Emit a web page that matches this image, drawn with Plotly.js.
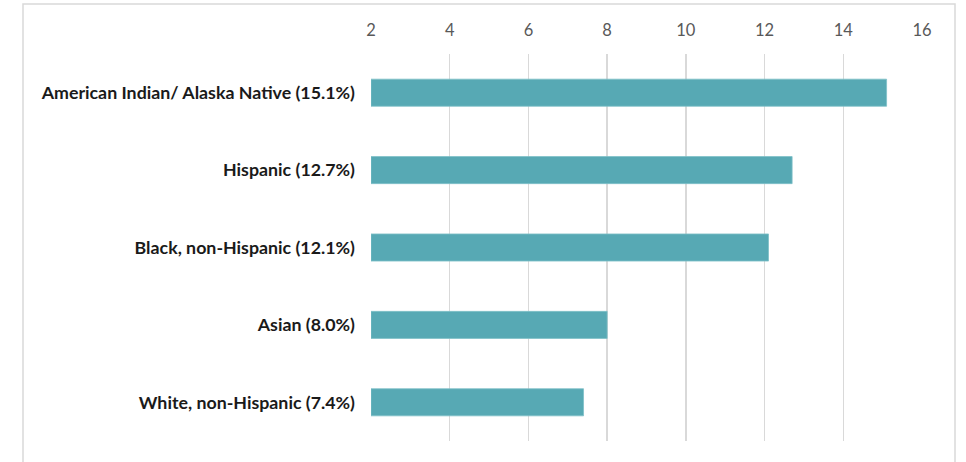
<!DOCTYPE html>
<html>
<head>
<meta charset="utf-8">
<script src="https://cdn.plot.ly/plotly-3.0.1.min.js"></script>
<style>
html,body{margin:0;padding:0;background:#fff;}
#chart{width:966px;height:462px;}
</style>
</head>
<body>
<div id="chart"></div>
<script>
var categories = [
  "White, non-Hispanic (7.4%)",
  "Asian (8.0%)",
  "Black, non-Hispanic (12.1%)",
  "Hispanic (12.7%)",
  "American Indian/ Alaska Native (15.1%)"
];
var values = [7.4, 8.0, 12.1, 12.7, 15.1];
var tickVals = [2, 4, 6, 8, 10, 12, 14, 16];
var axisMin = 2;

var trace = {
  type: 'bar',
  orientation: 'h',
  y: categories,
  x: values.map(function(v){ return v - axisMin; }),
  base: axisMin,
  width: 0.35,
  marker: {color: '#57A9B4', line: {color: '#7FC0C8', width: 0.8}},
  hoverinfo: 'x+y'
};

var layout = {
  width: 966,
  height: 462,
  margin: {l: 371, r: 44, t: 54, b: 21, pad: 0},
  paper_bgcolor: '#ffffff',
  plot_bgcolor: '#ffffff',
  showlegend: false,
  xaxis: {
    side: 'top',
    range: [2, 16],
    tickvals: tickVals,
    ticktext: tickVals.map(String),
    showgrid: true,
    gridcolor: '#D9D9D9',
    gridwidth: 1.5,
    zeroline: false,
    showline: false,
    ticks: '',
    ticklabelstandoff: 14,
    tickfont: {family: 'Lato, Open Sans, sans-serif', size: 16.5, color: '#595959'},
    fixedrange: true
  },
  yaxis: {
    type: 'category',
    categoryorder: 'array',
    categoryarray: categories,
    showgrid: false,
    zeroline: false,
    showline: false,
    ticks: '',
    ticklabelstandoff: 15,
    tickfont: {family: 'Lato, Open Sans, sans-serif', size: 17.8, color: '#1a1a1a', weight: 'bold'},
    fixedrange: true
  },
  shapes: [{
    type: 'rect', xref: 'paper', yref: 'paper',
    x0: (23 - 371) / 551, x1: (955 - 371) / 551,
    y0: -0.1, y1: (441 - 4) / 387,
    line: {color: '#D9D9D9', width: 1.5},
    fillcolor: 'rgba(0,0,0,0)',
    layer: 'below'
  }]
};

Plotly.newPlot('chart', [trace], layout, {displayModeBar: false, staticPlot: true});
</script>
</body>
</html>
